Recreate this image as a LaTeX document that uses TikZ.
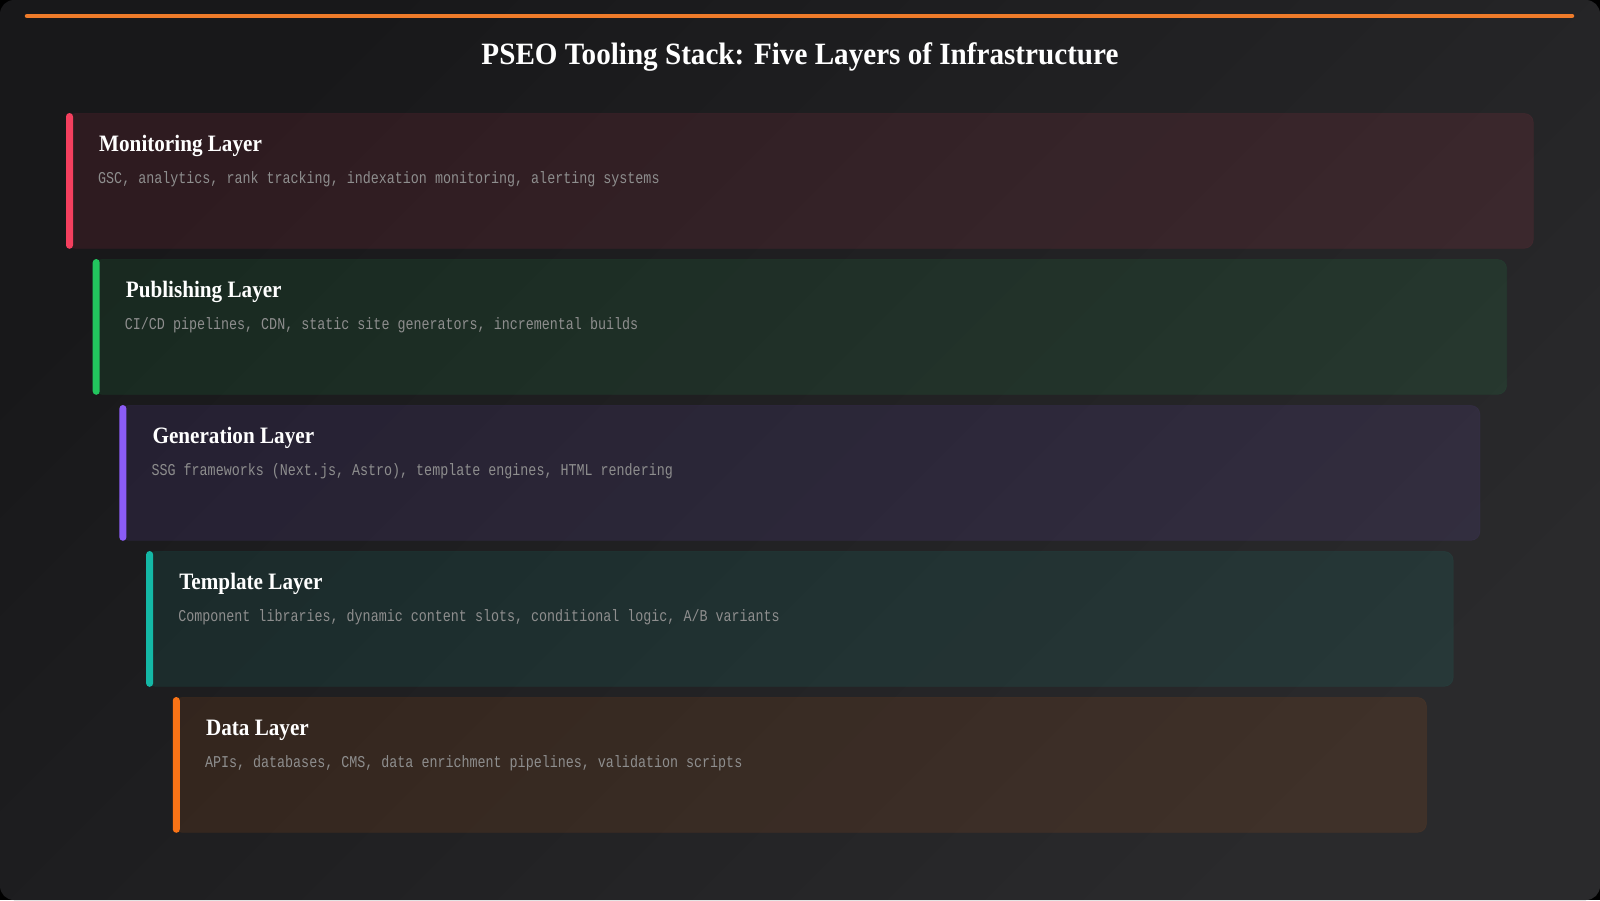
\documentclass[tikz,border=0pt]{standalone}
\usepackage{fontspec}
\setmainfont{Liberation Serif}
\newfontfamily\titlefont[FakeStretch=0.94]{Liberation Serif}
\newfontfamily\headfont[FakeStretch=0.9]{Liberation Serif}
\newfontfamily\descfont[FakeStretch=0.81]{Liberation Mono}
\usetikzlibrary{calc}
\definecolor{bgA}{HTML}{18181A}
\definecolor{bgB}{HTML}{2A2A2C}
\definecolor{topline}{HTML}{EE7B2A}
\definecolor{cRose}{HTML}{F43F5E}
\definecolor{cGreen}{HTML}{22C55E}
\definecolor{cPurple}{HTML}{8B5CF6}
\definecolor{cTeal}{HTML}{14B8A6}
\definecolor{cOrange}{HTML}{F97316}
\definecolor{descgray}{HTML}{8E8E8E}
\tikzset{
  layerbox/.style={anchor=north west, minimum height=135pt, inner sep=0pt,
    rounded corners=9pt, fill=#1, fill opacity=0.1, draw=#1, draw opacity=0.05, line width=0.8pt},
  accentbar/.style={fill=#1, rounded corners=3.5pt},
  headtext/.style={anchor=base west, inner sep=0pt, text=white,
    font=\headfont\bfseries\fontsize{23.5}{28}\selectfont},
  desctext/.style={anchor=base west, inner sep=0pt, text=descgray,
    font=\descfont\fontsize{16.5}{20}\selectfont},
  titletext/.style={anchor=base, inner sep=0pt, text=white,
    font=\titlefont\bfseries\fontsize{31}{36}\selectfont}
}
\begin{document}
\begin{tikzpicture}[x=1pt,y=-1pt]
\useasboundingbox (0,0) rectangle (1600,900);
\fill[black] (0,0) rectangle (1600,900);
\shade[rounded corners=14pt, top color=bgA, bottom color=bgB, shading angle=45] (0,0) rectangle (1600,900);
% top accent line
\coordinate (lineL) at (27,16);
\coordinate (lineR) at (1572,16);
\draw[topline, line width=4.5pt, line cap=round] (lineL) -- (lineR);
% title
\node[titletext] (title) at (800,64.3) {PSEO Tooling Stack: Five Layers of Infrastructure};
% layers
\node[layerbox=cRose, minimum width=1467pt] (mon) at (66,113) {};
\node[layerbox=cGreen, minimum width=1413.6pt] (pub) at (92.7,259) {};
\node[layerbox=cPurple, minimum width=1360.2pt] (gen) at (119.4,405) {};
\node[layerbox=cTeal, minimum width=1306.8pt] (tmp) at (146.1,551) {};
\node[layerbox=cOrange, minimum width=1253.4pt] (dat) at (172.8,697) {};
% accent bars
\fill[accentbar=cRose] (mon.north west) rectangle ($(mon.south west)+(7,0)$);
\fill[accentbar=cGreen] (pub.north west) rectangle ($(pub.south west)+(7,0)$);
\fill[accentbar=cPurple] (gen.north west) rectangle ($(gen.south west)+(7,0)$);
\fill[accentbar=cTeal] (tmp.north west) rectangle ($(tmp.south west)+(7,0)$);
\fill[accentbar=cOrange] (dat.north west) rectangle ($(dat.south west)+(7,0)$);
% texts
\node[headtext] (monh) at ($(mon.north west)+(33,38.7)$) {Monitoring Layer};
\node[desctext] (mond) at ($(mon.north west)+(32,70.3)$) {GSC, analytics, rank tracking, indexation monitoring, alerting systems};
\node[headtext] (pubh) at ($(pub.north west)+(33,38.7)$) {Publishing Layer};
\node[desctext] (pubd) at ($(pub.north west)+(32,70.3)$) {CI/CD pipelines, CDN, static site generators, incremental builds};
\node[headtext] (genh) at ($(gen.north west)+(33,38.7)$) {Generation Layer};
\node[desctext] (gend) at ($(gen.north west)+(32,70.3)$) {SSG frameworks (Next.js, Astro), template engines, HTML rendering};
\node[headtext] (tmph) at ($(tmp.north west)+(33,38.7)$) {Template Layer};
\node[desctext] (tmpd) at ($(tmp.north west)+(32,70.3)$) {Component libraries, dynamic content slots, conditional logic, A/B variants};
\node[headtext] (dath) at ($(dat.north west)+(33,38.7)$) {Data Layer};
\node[desctext] (datd) at ($(dat.north west)+(32,70.3)$) {APIs, databases, CMS, data enrichment pipelines, validation scripts};
\end{tikzpicture}
\end{document}
